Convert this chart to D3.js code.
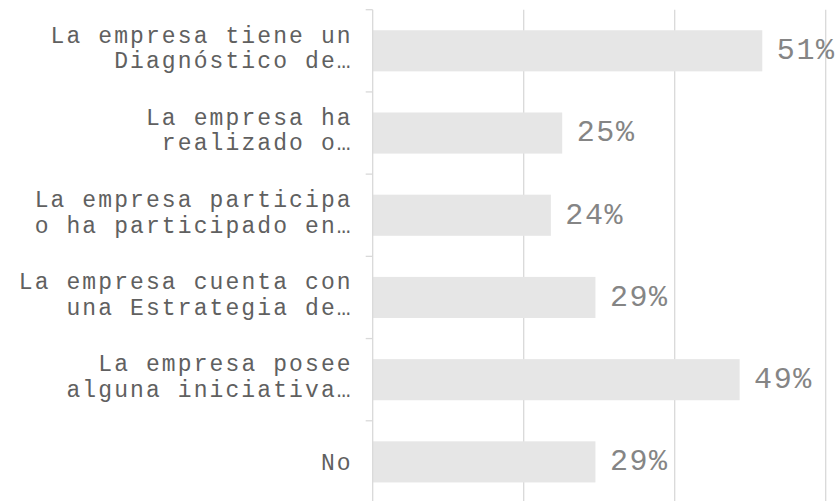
<!DOCTYPE html>
<html>
<head>
<meta charset="utf-8">
<script src="https://cdn.jsdelivr.net/npm/d3@7"></script>
<style>
  body { margin: 0; background: #fff; }
  text { font-family: "Courier New", "Liberation Mono", monospace; }
</style>
</head>
<body>
<div id="chart"></div>
<script>
// categories (already wrapped the way the original shows them)
var categories = [
    "La empresa tiene un Diagnóstico de…",
    "La empresa ha realizado o…",
    "La empresa participa o ha participado en…",
    "La empresa cuenta con una Estrategia de…",
    "La empresa posee alguna iniciativa…",
    "No"
];
var categoryLines = [
    ["La empresa tiene un", "Diagnóstico de…"],
    ["La empresa ha", "realizado o…"],
    ["La empresa participa", "o ha participado en…"],
    ["La empresa cuenta con", "una Estrategia de…"],
    ["La empresa posee", "alguna iniciativa…"],
    ["No"]
];
var values = [51.6, 25.1, 23.6, 29.5, 48.6, 29.5];
var valueLabels = ["51%", "25%", "24%", "29%", "49%", "29%"];
var gridTicks = [20, 40, 60];

// set the dimensions and margins of the graph
var margin = {top: 9.7, right: 9.3, bottom: -2, left: 372.7},
    width = 835 - margin.left - margin.right,
    height = 501 - margin.top - margin.bottom;

var x = d3.scaleLinear()
    .domain([0, 60])
    .range([0, width]);

var y = d3.scaleBand()
    .domain(categories)
    .range([0, height])
    .paddingInner(0.5)
    .paddingOuter(0.25);

var svg = d3.select("#chart").append("svg")
    .attr("width", 835)
    .attr("height", 501)
    .append("g")
    .attr("transform", "translate(" + margin.left + "," + margin.top + ")");

// vertical gridlines
svg.append("g")
    .attr("class", "grid")
    .selectAll("line")
    .data(gridTicks)
    .enter().append("line")
    .attr("x1", function(d) { return x(d); })
    .attr("x2", function(d) { return x(d); })
    .attr("y1", 0)
    .attr("y2", height + 10)
    .attr("stroke", "#d9d9d9")
    .attr("stroke-width", 1.3);

// bars
svg.selectAll(".bar")
    .data(values)
    .enter().append("rect")
    .attr("class", "bar")
    .attr("x", x(0))
    .attr("y", function(d, i) { return y(categories[i]); })
    .attr("width", function(d) { return x(d) - x(0); })
    .attr("height", y.bandwidth())
    .attr("fill", "#e6e6e6");

// left axis line + ticks at band boundaries
var step = y.step();
var boundaries = categories.map(function(c) { return y(c) - step * 0.25; });
boundaries.push(y(categories[categories.length - 1]) + y.bandwidth() + step * 0.25);

svg.append("line")
    .attr("x1", 0).attr("x2", 0)
    .attr("y1", 0).attr("y2", height + 10)
    .attr("stroke", "#d9d9d9")
    .attr("stroke-width", 1.3);

svg.append("g")
    .selectAll("line")
    .data(boundaries)
    .enter().append("line")
    .attr("x1", -7).attr("x2", 0)
    .attr("y1", function(d) { return d; })
    .attr("y2", function(d) { return d; })
    .attr("stroke", "#d9d9d9")
    .attr("stroke-width", 1.3);

// category labels (smaller glyphs + letter spacing to keep the courier advance)
var labels = svg.append("g")
    .selectAll("text")
    .data(categoryLines)
    .enter().append("text")
    .attr("text-anchor", "end")
    .attr("fill", "#606060")
    .style("font-size", "23px")
    .style("letter-spacing", "2.1px")
    .attr("y", function(d, i) { return y(categories[i]) + y.bandwidth() / 2; });

labels.each(function(lines) {
    var t = d3.select(this);
    var first = lines.length > 1 ? -0.36 : 0.335;
    lines.forEach(function(line, j) {
        t.append("tspan")
            .attr("x", -20)
            .attr("y", t.attr("y"))
            .attr("dy", (first + j * 1.113) + "em")
            .text(line);
    });
});

// value labels
svg.append("g")
    .selectAll("text")
    .data(values)
    .enter().append("text")
    .attr("x", function(d) { return x(d) + 14.5; })
    .attr("y", function(d, i) { return y(categories[i]) + y.bandwidth() / 2; })
    .attr("dy", "0.28em")
    .attr("fill", "#858585")
    .style("font-size", "30px")
    .style("letter-spacing", "1.6px")
    .text(function(d, i) { return valueLabels[i]; });
</script>
</body>
</html>
